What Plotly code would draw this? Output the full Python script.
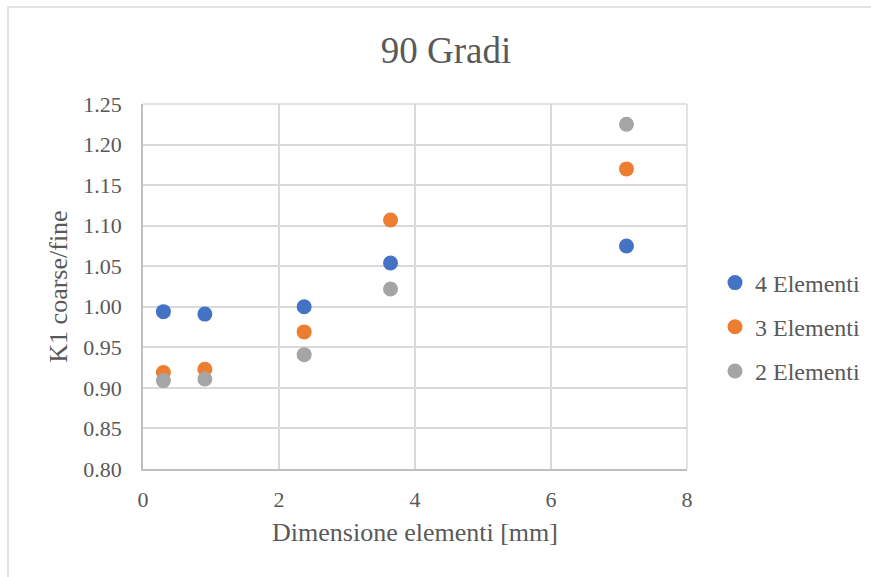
import plotly.graph_objects as go

# Element size [mm] and K1 coarse/fine ratio for each series
dimensione = [0.30, 0.91, 2.37, 3.64, 7.11]
k1_4_elementi = [0.994, 0.991, 1.000, 1.054, 1.075]
k1_3_elementi = [0.919, 0.923, 0.969, 1.107, 1.170]
k1_2_elementi = [0.909, 0.911, 0.941, 1.022, 1.225]

series_names = ["4 Elementi", "3 Elementi", "2 Elementi"]
series_values = [k1_4_elementi, k1_3_elementi, k1_2_elementi]
series_colors = ["#4472C4", "#ED7D31", "#A5A5A5"]

x_ticks = [0, 2, 4, 6, 8]
y_ticks = [0.80, 0.85, 0.90, 0.95, 1.00, 1.05, 1.10, 1.15, 1.20, 1.25]

W, H = 871, 577
L, R, T, B = 143, 184, 104, 108
FONT = "Liberation Serif"
TXT = "#595959"
GRID = "#D9D9D9"

fig = go.Figure()
for name, vals, col in zip(series_names, series_values, series_colors):
    fig.add_trace(go.Scatter(
        x=dimensione, y=vals, mode="markers", name=name,
        legendgroup=name,
        marker=dict(size=15, color=col, line=dict(width=0)),
    ))

pw = W - L - R
ph = H - T - B


def px_x(p):
    return (p - L) / pw


def px_y(p):
    return (H - B - p) / ph


fig.update_layout(
    width=W, height=H,
    margin=dict(l=L, r=R, t=T, b=B, autoexpand=False),
    paper_bgcolor="white", plot_bgcolor="white",
    font=dict(family=FONT, color=TXT, size=22),
    title=dict(text="90 Gradi", font=dict(size=37, color=TXT, family=FONT),
               x=446 / W, xref="container", xanchor="center",
               y=1 - 50 / H, yref="container", yanchor="middle"),
    xaxis=dict(range=[0, 8], tickvals=x_ticks, ticktext=[str(v) for v in x_ticks],
               showgrid=True, gridcolor=GRID, gridwidth=1.5, zeroline=False,
               showline=True, linecolor="#BFBFBF", linewidth=1.5,
               ticks="", ticklabelstandoff=10,
               tickfont=dict(size=22, color=TXT, family=FONT),
               title=dict(text="Dimensione elementi [mm]", standoff=12,
                          font=dict(size=26, color=TXT, family=FONT))),
    yaxis=dict(range=[0.80, 1.25], tickvals=y_ticks,
               ticktext=[f"{v:.2f}" for v in y_ticks],
               showgrid=True, gridcolor=GRID, gridwidth=1.5, zeroline=False,
               showline=True, linecolor="#BFBFBF", linewidth=1.5,
               ticks="", ticklabelstandoff=15,
               tickfont=dict(size=22, color=TXT, family=FONT),
               title=dict(text="K1 coarse/fine", standoff=8,
                          font=dict(size=26, color=TXT, family=FONT))),
    legend=dict(x=px_x(715), xanchor="left", y=px_y(327), yanchor="middle",
                font=dict(size=24, color=TXT, family=FONT),
                tracegroupgap=10, bgcolor="rgba(0,0,0,0)", itemwidth=30),
    showlegend=True,
)

# top gridline and right gridline closing the plot area
fig.add_shape(type="line", xref="paper", yref="paper", x0=0, x1=1, y0=1, y1=1,
              line=dict(color=GRID, width=1.5), layer="below")
fig.add_shape(type="line", xref="paper", yref="paper", x0=1, x1=1, y0=0, y1=1,
              line=dict(color=GRID, width=1.5), layer="below")

# chart area border
fig.add_shape(type="rect", xref="paper", yref="paper",
              x0=px_x(8), x1=px_x(W + 10), y0=px_y(H + 10), y1=px_y(7),
              line=dict(color=GRID, width=1.5), fillcolor="rgba(0,0,0,0)")

fig.write_html("out.html")
